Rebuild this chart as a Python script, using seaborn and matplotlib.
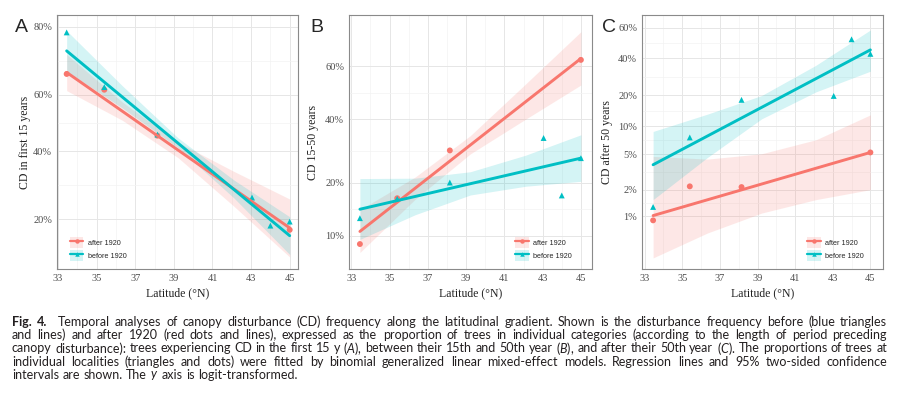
import numpy as np
import pandas as pd
import matplotlib
matplotlib.use("Agg")
import matplotlib.pyplot as plt
from matplotlib.lines import Line2D
from matplotlib.patches import Patch
from matplotlib.ticker import FixedLocator, FuncFormatter, NullFormatter
import seaborn as sns

##values (proportion of trees)

# latitudes of the localities
lat_before = [33.45, 35.4, 38.15, 43.05, 44.0, 45.0]
lat_after = [33.45, 35.4, 38.15, 45.0]
lat_fit = [33.45, 45.0]                        # ends of regression lines
lat_band = [33.45, 36.34, 39.22, 42.11, 45.0]  # where CI edges were read

# A - CD in first 15 years
a_before = [0.787, 0.627, 0.459, 0.255, 0.186, 0.195]
a_after = [0.670, 0.618, 0.455, 0.177]
a_fit_before = [0.739, 0.165]
a_fit_after = [0.675, 0.181]
a_lo_before = [0.679, 0.554, 0.412, 0.254, 0.131]
a_hi_before = [0.791, 0.631, 0.447, 0.306, 0.206]
a_lo_after = [0.615, 0.510, 0.378, 0.232, 0.127]
a_hi_after = [0.729, 0.575, 0.431, 0.333, 0.251]

# B - CD 15-50 years
b_before = [0.127, 0.164, 0.201, 0.333, 0.171, 0.268]
b_after = [0.089, 0.165, 0.292, 0.624]
b_fit_before = [0.143, 0.268]
b_fit_after = [0.106, 0.629]
b_lo_before = [0.095, 0.133, 0.172, 0.192, 0.204]
b_hi_before = [0.211, 0.212, 0.229, 0.277, 0.344]
b_lo_after = [0.079, 0.163, 0.281, 0.400, 0.530]
b_hi_after = [0.142, 0.215, 0.341, 0.534, 0.719]

# C - CD after 50 years
c_before = [0.0128, 0.0758, 0.182, 0.198, 0.526, 0.430]
c_after = [0.0090, 0.0219, 0.0215, 0.0522]
c_fit_before = [0.0382, 0.456]
c_fit_after = [0.0102, 0.0522]
c_lo_before = [0.0155, 0.0460, 0.1185, 0.2157, 0.3224]
c_hi_before = [0.0877, 0.1321, 0.1997, 0.358, 0.587]
c_lo_after = [0.00334, 0.00645, 0.0109, 0.0155, 0.0201]
c_hi_after = [0.0472, 0.0441, 0.0505, 0.0716, 0.130]

x_ticks = [33, 35, 37, 39, 41, 43, 45]
a_yticks = [0.2, 0.4, 0.6, 0.8]
b_yticks = [0.1, 0.2, 0.4, 0.6]
c_yticks = [0.01, 0.02, 0.05, 0.1, 0.2, 0.4, 0.6]

ylabels = ["CD in first 15 years", "CD 15-50 years", "CD after 50 years"]
periods = ["after 1920", "before 1920"]

caption = [
    "Fig. 4. Temporal analyses of canopy disturbance (CD) frequency along the latitudinal gradient. Shown is the disturbance frequency before (blue triangles",
    "and lines) and after 1920 (red dots and lines), expressed as the proportion of trees in individual categories (according to the length of period preceding",
    "canopy disturbance): trees experiencing CD in the first 15 y ($\\mathit{A}$), between their 15th and 50th year ($\\mathit{B}$), and after their 50th year ($\\mathit{C}$). The proportions of trees at",
    "individual localities (triangles and dots) were fitted by binomial generalized linear mixed-effect models. Regression lines and 95% two-sided confidence",
    "intervals are shown. The $\\mathit{y}$ axis is logit-transformed.",
]

RED = "#F8766D"
TEAL = "#00BFC4"
pal = {"after 1920": RED, "before 1920": TEAL}
mk = {"after 1920": "o", "before 1920": "^"}

sns.set_style("white")
plt.rcParams["mathtext.fontset"] = "custom"
plt.rcParams["mathtext.rm"] = "Lato"
plt.rcParams["mathtext.it"] = "Lato:italic"

W, H = 900, 400
fig = plt.figure(figsize=(9, 4), dpi=100)

def logit(p):
    p = np.asarray(p, dtype=float)
    return np.log(p / (1 - p))

def expit(v):
    return 1 / (1 + np.exp(-v))

def pct(v, pos=None):
    return "%d%%" % round(v * 100)

panels = [
    dict(rect=[57, 15, 298, 269], letter="A", lx=15,
         pts=(a_before, a_after), fit=(a_fit_before, a_fit_after),
         band=(a_lo_before, a_hi_before, a_lo_after, a_hi_after),
         yt=a_yticks, ylim=(0.109, 0.826), xlim=(32.95, 45.43),
         leg=("lower left", (0.035, 0.015)), ylab_x=25),
    dict(rect=[349, 15, 592, 269], letter="B", lx=310,
         pts=(b_before, b_after), fit=(b_fit_before, b_fit_after),
         band=(b_lo_before, b_hi_before, b_lo_after, b_hi_after),
         yt=b_yticks, ylim=(0.0624, 0.768), xlim=(32.88, 45.58),
         leg=("lower right", (0.935, 0.015)), ylab_x=313),
    dict(rect=[642, 15, 883, 269], letter="C", lx=602,
         pts=(c_before, c_after), fit=(c_fit_before, c_fit_after),
         band=(c_lo_before, c_hi_before, c_lo_after, c_hi_after),
         yt=c_yticks, ylim=(0.00249, 0.679), xlim=(32.86, 45.67),
         leg=("lower right", (0.94, 0.015)), ylab_x=607),
]

for i, pn in enumerate(panels):
    l, t, r, b = pn["rect"]
    ax = fig.add_axes([l / W, 1 - b / H, (r - l) / W, (b - t) / H])

    lo_b, hi_b, lo_a, hi_a = pn["band"]
    ax.fill_between(lat_band, lo_a, hi_a, color=RED, alpha=0.17, lw=0, zorder=2)
    ax.fill_between(lat_band, lo_b, hi_b, color=TEAL, alpha=0.17, lw=0, zorder=2)

    pts = pd.DataFrame({
        "lat": lat_after + lat_before,
        "p": pn["pts"][1] + pn["pts"][0],
        "period": ["after 1920"] * len(lat_after) + ["before 1920"] * len(lat_before),
    })
    fits = pd.DataFrame({
        "lat": lat_fit + lat_fit,
        "p": pn["fit"][1] + pn["fit"][0],
        "period": ["after 1920"] * 2 + ["before 1920"] * 2,
    })
    sns.scatterplot(data=pts, x="lat", y="p", hue="period", style="period",
                    palette=pal, markers=mk, s=18, linewidth=0, ax=ax,
                    legend=False, zorder=3)
    sns.lineplot(data=fits, x="lat", y="p", hue="period", palette=pal,
                 lw=2.1, ax=ax, legend=False, zorder=4)

    ax.set_yscale("logit")
    ax.set_ylim(*pn["ylim"])
    ax.set_xlim(*pn["xlim"])
    ax.yaxis.set_major_locator(FixedLocator(pn["yt"]))
    ax.yaxis.set_major_formatter(FuncFormatter(pct))
    lg = logit(pn["yt"])
    ax.yaxis.set_minor_locator(FixedLocator(list(expit((lg[:-1] + lg[1:]) / 2))))
    ax.yaxis.set_minor_formatter(NullFormatter())
    ax.xaxis.set_major_locator(FixedLocator(x_ticks))
    ax.xaxis.set_minor_locator(FixedLocator([34, 36, 38, 40, 42, 44]))

    ax.grid(which="major", color="#e6e6e6", lw=0.7, zorder=0)
    ax.grid(which="minor", color="#f3f3f3", lw=0.5, zorder=0)
    ax.set_axisbelow(True)
    for s in ax.spines.values():
        s.set_color("#8a8a8a")
        s.set_linewidth(0.8)
    ax.tick_params(which="major", direction="out", length=2.2, width=0.6,
                   color="#666666", pad=1.3, labelsize=7.5, labelcolor="#4d4d4d")
    ax.tick_params(which="minor", length=0)
    for lab in ax.get_xticklabels() + ax.get_yticklabels():
        lab.set_family("Liberation Serif")

    ax.set_xlabel("Latitude (°N)", family="Liberation Serif", fontsize=8.5, color="#222222")
    ax.set_ylabel(ylabels[i], family="Liberation Serif", fontsize=8.5, color="#222222")
    ax.xaxis.label.set_verticalalignment("center")
    ax.yaxis.label.set_verticalalignment("center")
    ax.xaxis.set_label_coords(0.5, -24 / (b - t))
    ax.yaxis.set_label_coords((pn["ylab_x"] - l) / (r - l), 0.5)

    handles = [
        (Patch(fc=pal[k], alpha=0.17, lw=0),
         Line2D([], [], color=pal[k], lw=1.6, marker=mk[k], ms=3.2, mew=0))
        for k in periods
    ]
    ax.legend(handles, periods, loc=pn["leg"][0], bbox_to_anchor=pn["leg"][1],
              frameon=False, prop={"family": "Liberation Sans", "size": 5.2},
              handlelength=1.9, handleheight=1.9, handletextpad=0.6,
              labelspacing=0.35, borderaxespad=0.2)

    fig.text(pn["lx"] / W, 1 - 31.5 / H, pn["letter"], family="Liberation Sans",
             fontsize=14, va="baseline", ha="left")

##caption, justified word by word
cap_y = [322, 335, 348.3, 361.7, 375]
x0, x1 = 12, 887
fig.canvas.draw()
rend = fig.canvas.get_renderer()

# pick a size that lets the widest full line just fill the text block
base = 8.2
widest = 0
for line in caption[:-1]:
    t = fig.text(0, 0, line, family="Lato", fontsize=base)
    widest = max(widest, t.get_window_extent(rend).width)
    t.remove()
cap_size = base * (x1 - x0) / widest * 0.99

for i, line in enumerate(caption):
    words = line.split(" ")
    texts = []
    for j, w in enumerate(words):
        bold = (i == 0 and j < 2)
        texts.append(fig.text(0, 1 - cap_y[i] / H, w, family="Lato", fontsize=cap_size,
                              fontweight="bold" if bold else "normal",
                              color="#231f20", va="center", ha="left"))
    widths = [t.get_window_extent(rend).width for t in texts]
    extra = 6 if i == 0 else 0
    if i < len(caption) - 1:
        gap = (x1 - x0 - sum(widths) - extra) / (len(words) - 1)
    else:
        gap = 0.27 * cap_size * 100 / 72
    x = x0
    for j, t in enumerate(texts):
        t.set_x(x / W)
        x += widths[j] + gap
        if i == 0 and j == 1:
            x += extra

fig.savefig("out.png", dpi=100)
